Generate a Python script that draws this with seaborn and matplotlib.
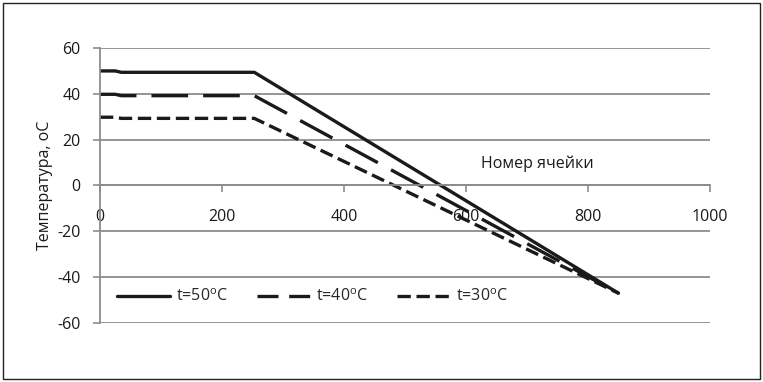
import pandas as pd
import matplotlib.pyplot as plt
import seaborn as sns
from matplotlib.patches import Rectangle

# cell number (knots of the piecewise profiles)
cells = [0, 25, 35, 253, 850]
t50 = [50, 50, 49.4, 49.4, -47]
t40 = [39.8, 39.8, 39.2, 39.2, -47]
t30 = [29.8, 29.8, 29.3, 29.3, -47]

labels = ["t=50$^\\mathregular{o}$C", "t=40$^\\mathregular{o}$C", "t=30$^\\mathregular{o}$C"]
xticks = [0, 200, 400, 600, 800, 1000]
yticks = [-60, -40, -20, 0, 20, 40, 60]

df = pd.concat([
    pd.DataFrame({"cell": cells, "temp": t50, "series": labels[0]}),
    pd.DataFrame({"cell": cells, "temp": t40, "series": labels[1]}),
    pd.DataFrame({"cell": cells, "temp": t30, "series": labels[2]}),
])

sns.set_style("white")
plt.rcParams['font.family'] = ['Open Sans', 'DejaVu Sans']
plt.rcParams['axes.unicode_minus'] = False
fs = 11.5

fig = plt.figure(figsize=(7.63, 3.82), dpi=100)
ax = fig.add_axes([0.131, 0.1545, 0.7995, 0.7198])

sns.lineplot(
    data=df, x="cell", y="temp", hue="series", style="series",
    palette=["#1a1a1a"] * 3,
    dashes={labels[0]: "", labels[1]: (11, 4.5), labels[2]: (4, 1.7)},
    linewidth=2.4, sort=False, ax=ax, legend=True
)

ax.set_xlim(0, 1000)
ax.set_ylim(-60, 60)
ax.set_xticks(xticks)
ax.set_yticks(yticks)
ax.yaxis.grid(True, color="#8c8c8c", linewidth=1.3)
ax.xaxis.grid(False)
ax.set_axisbelow(True)

for s in ["top", "right"]:
    ax.spines[s].set_visible(False)
ax.spines["left"].set_color("#8c8c8c")
ax.spines["left"].set_linewidth(1.3)
ax.spines["bottom"].set_position(("data", 0))
ax.spines["bottom"].set_color("#8c8c8c")
ax.spines["bottom"].set_linewidth(1.3)

ax.tick_params(axis="both", direction="out", length=5, color="#8c8c8c",
               width=1.2, labelsize=fs, labelcolor="#1a1a1a")
ax.tick_params(axis="x", pad=12, bottom=True)
ax.tick_params(axis="y", pad=9, left=True)

ax.set_xlabel("")
ax.set_ylabel("Температура, оС", fontsize=fs, labelpad=3, color="#1a1a1a")
ax.text(624, 9.5, "Номер ячейки", fontsize=fs, ha="left", va="center", color="#1a1a1a")

handles, lab = ax.get_legend_handles_labels()
leg = ax.legend(handles, lab, ncol=3, frameon=False, loc="center left",
                bbox_to_anchor=(0.005, 0.095), fontsize=fs, handlelength=3.3,
                columnspacing=1.8, handletextpad=0.4)
# two long dashes in the legend key, as in the original
leg.get_lines()[1].set_dashes((6.3, 3.2))

fig.add_artist(Rectangle((0.004, 0.008), 0.992, 0.984, transform=fig.transFigure,
                         fill=False, edgecolor="#222222", linewidth=1.0))

fig.savefig("out.png", dpi=100)
